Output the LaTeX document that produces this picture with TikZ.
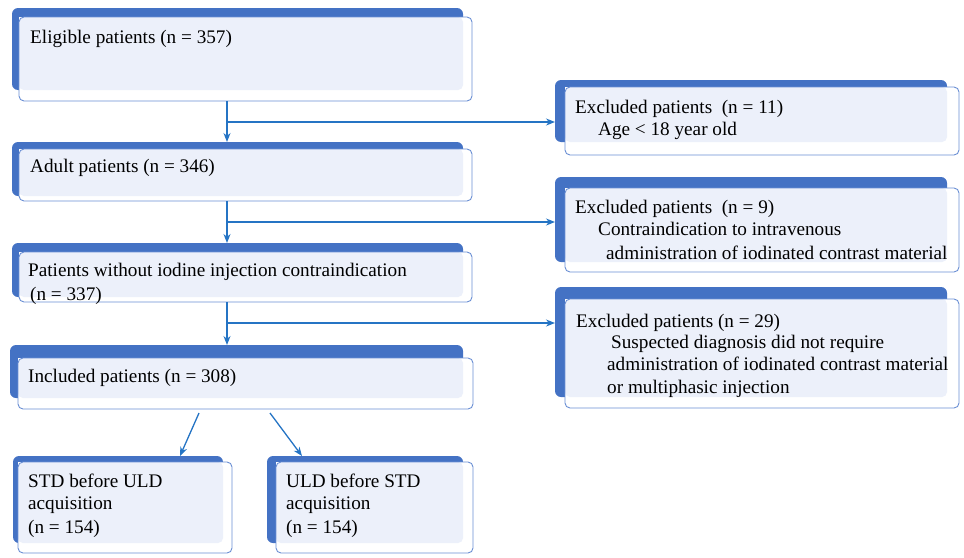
\documentclass[tikz,border=0pt]{standalone}
\usepackage{fontspec}
\setmainfont{Liberation Serif}
\usetikzlibrary{arrows.meta}
\definecolor{bkblue}{HTML}{4472C4}
\definecolor{lightfill}{HTML}{ECF0FA}
\definecolor{outl}{HTML}{6A8FD4}
\definecolor{arrc}{HTML}{2574C4}
\tikzset{
  backbox/.style={fill=bkblue, rounded corners=6pt, inner sep=0pt, outer sep=0pt, anchor=north west},
  frontbox/.style={fill=white, inner sep=0pt, outer sep=0pt, anchor=north west},
  txt/.style={anchor=base west, inner sep=0pt, font=\fontsize{19.2}{23}\selectfont},
  arr/.style={draw=arrc, line width=1.3pt, -{Stealth[length=9pt,width=7pt]}},
}
\newcommand\flowbx[9]{%
  \node[backbox, minimum width={(#8-#6)*1pt}, minimum height={(#9-#7)*1pt}] (#1bk) at (#6,#7) {};
  \node[frontbox, minimum width={(#4-#2)*1pt}, minimum height={(#5-#3)*1pt}] (#1) at (#2,#3) {};
  \fill[lightfill, rounded corners=5pt] (#1.north west) rectangle (#1bk.south east);
  \draw[outl, line width=0.9pt, rounded corners=5pt] (#1.north west) rectangle (#1.south east);
}
\begin{document}
\begin{tikzpicture}[x=1pt,y=-1pt]
\useasboundingbox (0,0) rectangle (964,557);
% boxes
\flowbx{b1}{19}{17}{472}{101}{12}{8}{463}{90}
\flowbx{b2}{19}{149}{472}{201}{12}{142}{463}{196}
\flowbx{b3}{19}{252}{472}{302}{12}{243}{463}{297}
\flowbx{b4}{18}{358}{473}{409}{10}{345}{463}{398}
\flowbx{b5}{18}{462}{232}{553}{13}{456}{223}{543}
\flowbx{b6}{276}{462}{473}{553}{267}{456}{463}{543}
\flowbx{e1}{565}{87}{959}{155}{555}{80}{947}{142}
\flowbx{e2}{565}{188}{959}{272}{555}{177}{947}{262}
\flowbx{e3}{565}{299}{959}{408}{555}{287}{947}{397}
% texts
\node[txt] (t1) at (30,43) {Eligible patients (n = 357)};
\node[txt] (t2) at (30,172) {Adult patients (n = 346)};
\node[txt] (t3a) at (28,276) {Patients without iodine injection contraindication};
\node[txt] (t3b) at (30,300) {(n = 337)};
\node[txt] (t4) at (28,382) {Included patients (n = 308)};
\node[txt] (t5a) at (28,487) {STD before ULD};
\node[txt] (t5b) at (28,509) {acquisition};
\node[txt] (t5c) at (28,533) {(n = 154)};
\node[txt] (t6a) at (286,487) {ULD before STD};
\node[txt] (t6b) at (286,509) {acquisition};
\node[txt] (t6c) at (286,533) {(n = 154)};
\node[txt] (u1a) at (575,113) {Excluded patients~~(n = 11)};
\node[txt] (u1b) at (598,135) {Age < 18 year old};
\node[txt] (u2a) at (575,213) {Excluded patients~~(n = 9)};
\node[txt] (u2b) at (598,235) {Contraindication to intravenous};
\node[txt] (u2c) at (606,259) {administration of iodinated contrast material};
\node[txt] (u3a) at (576,327) {Excluded patients (n = 29)};
\node[txt] (u3b) at (611,348) {Suspected diagnosis did not require};
\node[txt] (u3c) at (607,370) {administration of iodinated contrast material};
\node[txt] (u3d) at (607,393) {or multiphasic injection};
% connectors
\coordinate (sp) at (227,0);
\coordinate (j1) at (227,122);
\coordinate (j2) at (227,222);
\coordinate (j3) at (227,323);
\draw[arr] (b1.south -| sp) -- (b2bk.north -| sp);
\draw[arr] (b2.south -| sp) -- (b3bk.north -| sp);
\draw[arr] (b3.south -| sp) -- (b4bk.north -| sp);
\draw[arr] (j1) -- (j1 -| e1bk.west);
\draw[arr] (j2) -- (j2 -| e2bk.west);
\draw[arr] (j3) -- (j3 -| e3bk.west);
\coordinate (d1s) at (199,413);
\coordinate (d1e) at (180,456);
\coordinate (d2s) at (270,413);
\coordinate (d2e) at (302,456);
\draw[arr] (d1s) -- (d1e);
\draw[arr] (d2s) -- (d2e);
\end{tikzpicture}
\end{document}
